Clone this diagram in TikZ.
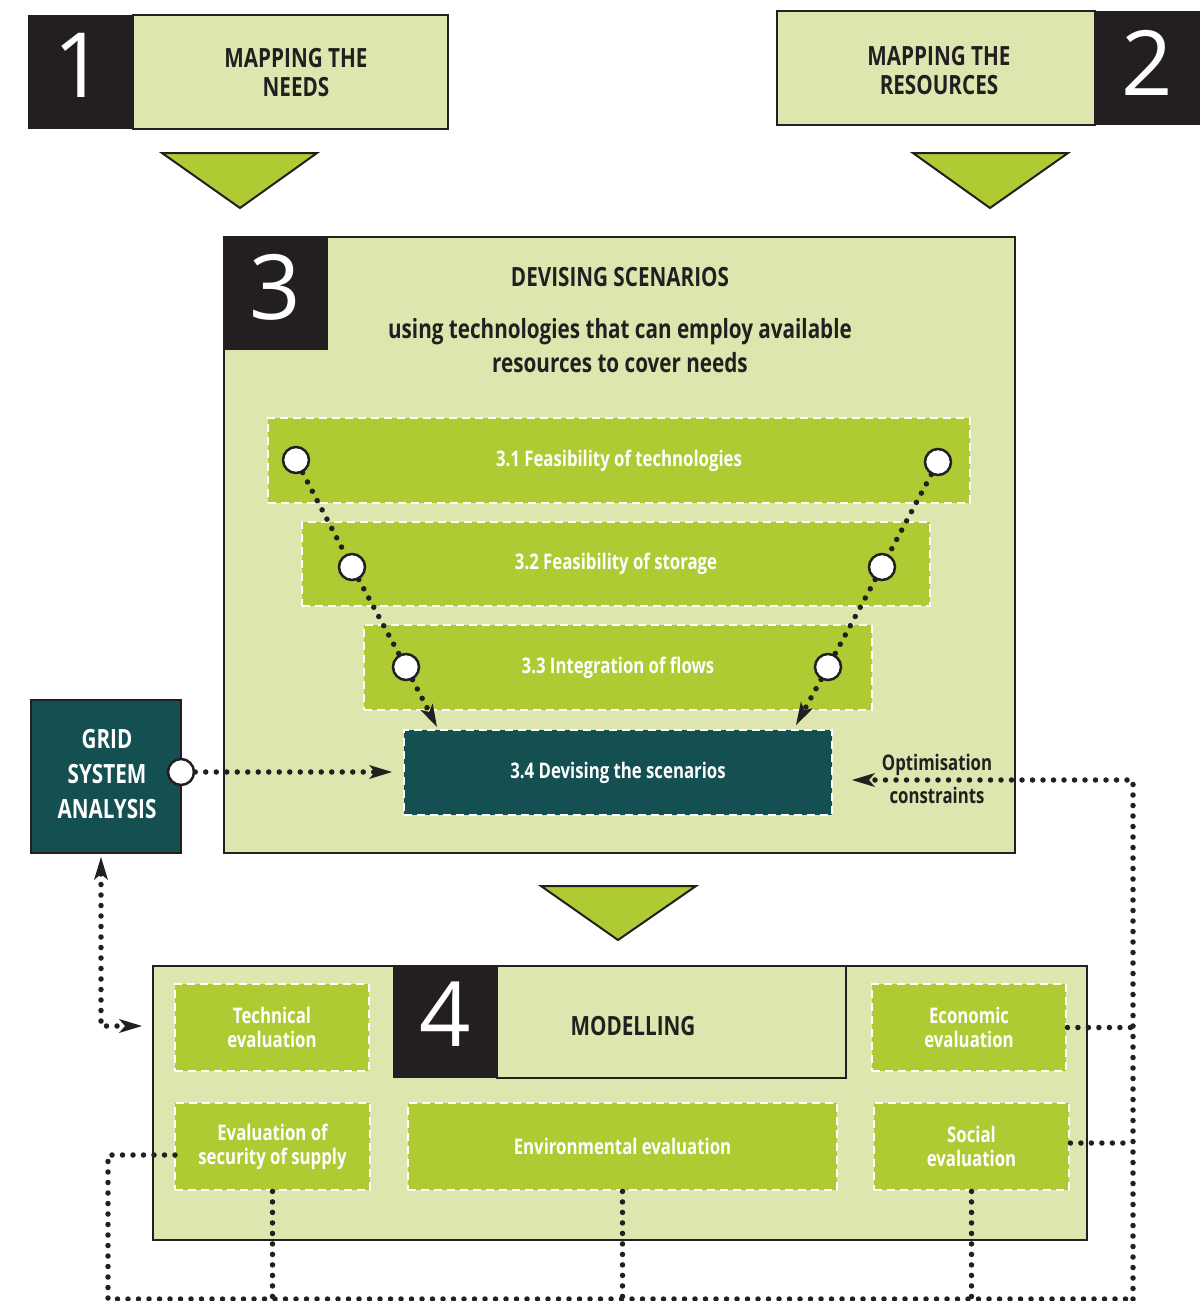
\documentclass[tikz,border=0pt]{standalone}
\usepackage{fontspec}
\setmainfont{Open Sans}[FakeStretch=0.78]
\newfontfamily\numfont{Open Sans}
\usetikzlibrary{arrows.meta}
\definecolor{lgreen}{HTML}{DCE6AE}
\definecolor{mgreen}{HTML}{AFCB34}
\definecolor{tealbox}{HTML}{145052}
\definecolor{dk}{HTML}{231F20}
\begin{document}
\begin{tikzpicture}[x=1pt,y=-1pt,
  frame/.style={draw=dk, line width=2.5pt, fill=lgreen, inner sep=0pt},
  blk/.style={fill=dk, inner sep=0pt},
  bignum/.style={text=white, inner sep=0pt, font=\numfont\fontsize{90}{90}\selectfont},
  headtxt/.style={text=dk, align=center, inner sep=0pt, font=\bfseries\fontsize{26.5}{29}\selectfont},
  subbox/.style={fill=mgreen, draw=white, line width=2.8pt, dash pattern=on 8pt off 5pt, inner sep=0pt, text=white, align=center, font=\bfseries\fontsize{21.5}{24}\selectfont},
  evalbox/.style={subbox, font=\bfseries\fontsize{21.5}{24}\selectfont},
  tri/.style={fill=mgreen, draw=dk, line width=2pt, line join=miter},
  dotc/.style={circle, fill=white, draw=dk, line width=2.5pt, minimum size=26pt, inner sep=0pt},
  dotline/.style={draw=dk, line width=5.5pt, line cap=round, dash pattern=on 0pt off 10.5pt},
  arr/.style={-{Stealth[length=23pt,width=14pt,inset=6pt,line width=0pt]}},
  dblarr/.style={{Stealth[length=23pt,width=14pt,inset=6pt,line width=0pt]}-{Stealth[length=23pt,width=14pt,inset=6pt,line width=0pt]}}
]
\useasboundingbox (0,0) rectangle (1202,1301);
\fill[white] (0,0) rectangle (1202,1301);

% Box 1
\node[frame, minimum width=315pt, minimum height=114pt] (b1) at (290.5,72) {};
\node[blk, minimum width=105pt, minimum height=114pt] (b1n) at (80.5,72) {};
\node[bignum] (n1) at (79,65) {1};
\node[headtxt] (t1) at (296,73) {MAPPING THE\\NEEDS};
\draw[tri] (162,153) -- (317,153) -- (240,208) -- cycle;

% Box 2
\node[frame, minimum width=318pt, minimum height=114pt] (b2) at (936,68) {};
\node[blk, minimum width=105pt, minimum height=114pt] (b2n) at (1147.5,68) {};
\node[bignum] (n2) at (1147,63) {2};
\node[headtxt] (t2) at (939,71) {MAPPING THE\\RESOURCES};
\draw[tri] (913,153) -- (1068,153) -- (990,208) -- cycle;

% Box 3
\node[frame, minimum width=791pt, minimum height=616pt] (b3) at (619.5,545) {};
\node[blk, minimum width=104pt, minimum height=113pt] (b3n) at (276,293.5) {};
\node[bignum] (n3) at (275,287) {3};
\node[text=dk, inner sep=0pt, font=\bfseries\fontsize{26.5}{30}\selectfont] (t3) at (620,277) {DEVISING SCENARIOS};
\node[text=dk, align=center, inner sep=0pt, font=\bfseries\fontsize{26.5}{34}\selectfont] (t3b) at (620,346) {using technologies that can employ available\\resources to cover needs};

\node[subbox, minimum width=702pt, minimum height=85pt] (s31) at (619,460.5) {3.1 Feasibility of technologies};
\node[subbox, minimum width=628pt, minimum height=84pt] (s32) at (616,564) {3.2 Feasibility of storage};
\node[subbox, minimum width=508pt, minimum height=85pt] (s33) at (618,667.5) {3.3 Integration of flows};
\node[subbox, fill=tealbox, minimum width=428pt, minimum height=85pt] (s34) at (618,772.5) {3.4 Devising the scenarios};

\node[dotc] (l1) at (296,460) {};
\node[dotc] (l2) at (352,567) {};
\node[dotc] (l3) at (406,667) {};
\node[dotc] (r1) at (938,462) {};
\node[dotc] (r2) at (882,567) {};
\node[dotc] (r3) at (828,667) {};
\coordinate (lt) at (437,727);
\coordinate (rt) at (796,725);
\draw[dotline] (l1) -- (l2);
\draw[dotline] (l2) -- (l3);
\draw[dotline,arr] (l3) -- (lt);
\draw[dotline] (r1) -- (r2);
\draw[dotline] (r2) -- (r3);
\draw[dotline,arr] (r3) -- (rt);

\node[text=dk, align=center, inner sep=0pt, font=\bfseries\fontsize{21.5}{33}\selectfont] (opt) at (937,779) {Optimisation\\constraints};

% Grid system analysis
\node[draw=dk, line width=2.5pt, fill=tealbox, minimum width=150pt, minimum height=153pt, inner sep=0pt] (grid) at (106,776.5) {};
\node[text=white, align=center, inner sep=0pt, font=\bfseries\fontsize{26.5}{35}\selectfont] (gridt) at (107,774) {GRID\\SYSTEM\\ANALYSIS};
\node[dotc] (cg) at (181,772) {};
\coordinate (gt) at (392,772);
\draw[dotline,arr] (cg) -- (gt);

\draw[tri] (541,886) -- (696,886) -- (618,940) -- cycle;

% Box 4
\node[frame, minimum width=934pt, minimum height=274pt] (b4) at (620,1103) {};
\node[blk, minimum width=104pt, minimum height=112pt] (b4n) at (445,1022) {};
\node[frame, minimum width=349pt, minimum height=112pt] (b4h) at (671.5,1022) {};
\node[bignum] (n4) at (445,1014) {4};
\node[text=dk, inner sep=0pt, font=\bfseries\fontsize{26.5}{30}\selectfont] (t4) at (633,1026) {MODELLING};

\node[evalbox, minimum width=194pt, minimum height=87pt] (tech) at (272,1027.5) {Technical\\evaluation};
\node[evalbox, minimum width=194pt, minimum height=87pt] (econ) at (969,1027.5) {Economic\\evaluation};
\node[evalbox, minimum width=195pt, minimum height=87pt] (sec) at (272.5,1146.5) {Evaluation of\\security of supply};
\node[evalbox, minimum width=429pt, minimum height=87pt] (env) at (622.5,1146.5) {Environmental evaluation};
\node[evalbox, minimum width=195pt, minimum height=87pt] (soc) at (971.5,1146.5) {Social\\evaluation};

% dotted feedback lines
\coordinate (gs) at (101,857);
\coordinate (gc) at (101,1026);
\coordinate (b4w) at (142,1026);
\draw[dotline,dblarr] (gs) -- (gc) -- (b4w);

\coordinate (tr) at (1133,780);
\coordinate (br) at (1133,1299);
\coordinate (bl) at (108,1299);
\coordinate (sl) at (108,1155);
\coordinate (secw) at (175,1155);
\coordinate (optt) at (852,780);
\draw[dotline,arr] (br) -- (tr) -- (optt);
\draw[dotline] (secw) -- (sl) -- (bl) -- (br);
\draw[dotline] (sec.south) -- (sec.south |- bl);
\draw[dotline] (env.south) -- (env.south |- bl);
\draw[dotline] (soc.south) -- (soc.south |- bl);
\draw[dotline] (econ.east) -- (econ.east -| tr);
\draw[dotline] ([yshift=3.5pt]soc.east) -- ([yshift=3.5pt]soc.east -| tr);
\end{tikzpicture}
\end{document}
